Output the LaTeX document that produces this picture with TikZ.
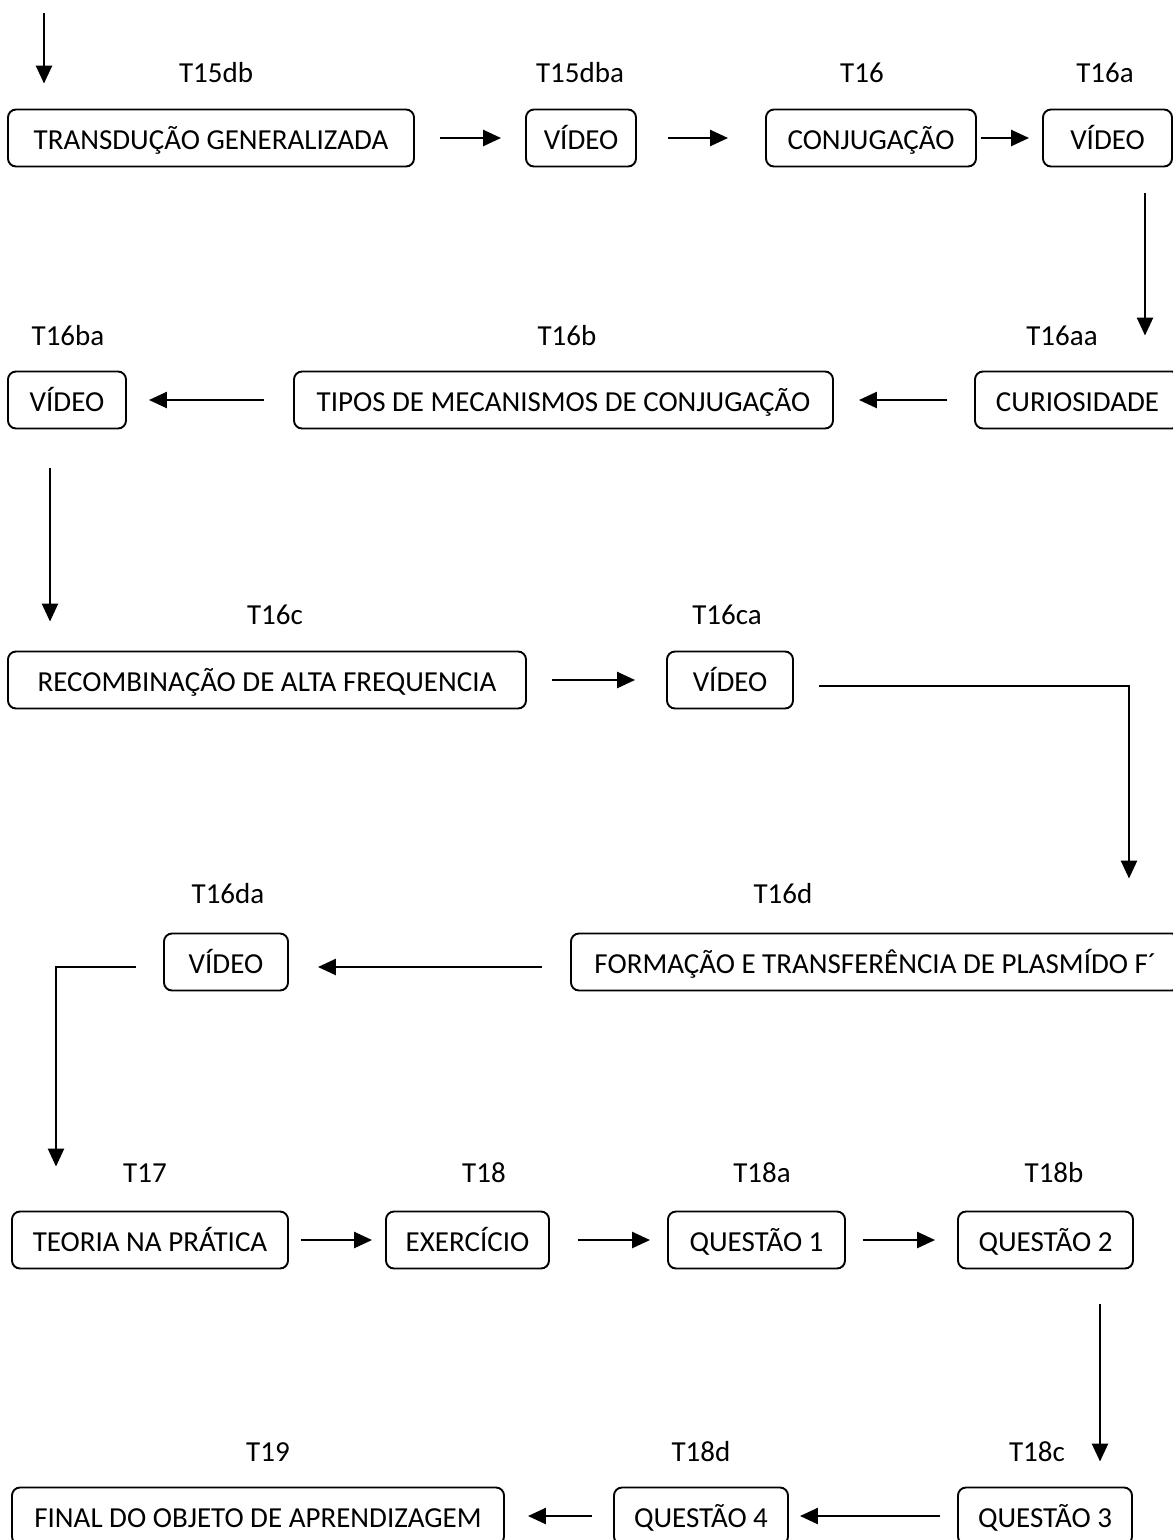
\documentclass[tikz,border=0pt]{standalone}
\usepackage{fontspec}
\setmainfont{Carlito}
\usetikzlibrary{arrows.meta, positioning}

\begin{document}
\begin{tikzpicture}[x=1pt, y=-1pt, font=\fontsize{29}{34}\selectfont,
    box/.style={draw, rounded corners=8pt, line width=1.9pt, minimum height=57pt, inner sep=0pt,
                text height=25pt, text depth=2pt},
    lbl/.style={inner sep=0pt, text height=20pt, text depth=0pt},
    arr/.style={line width=2.5pt, -{Triangle[length=18pt, width=16pt]}}]
  \useasboundingbox (0,0) rectangle (1173,1540);
  \clip (0,0) rectangle (1173,1540);
  % bend columns
  \coordinate (c0) at (44,0);
  \coordinate (c1) at (1145,0);
  \coordinate (c2) at (50,0);
  \coordinate (c3) at (1129,0);
  \coordinate (c4) at (56,0);
  \coordinate (c5) at (1100,0);
  \coordinate (start) at (44,13);
  % row 1
  \node[box, minimum width=406pt] (trans) at (211,138) {TRANSDUÇÃO GENERALIZADA};
  \node[box, minimum width=110pt] (vid1) at (581,138) {VÍDEO};
  \node[box, minimum width=210pt] (conj) at (871,138) {CONJUGAÇÃO};
  \node[box, minimum width=129pt] (vid2) at (1107.5,138) {VÍDEO};
  \node[lbl] (t15db) at (216,72) {T15db};
  \node[lbl] (t15dba) at (580,72) {T15dba};
  \node[lbl] (t16) at (862,72) {T16};
  \node[lbl] (t16a) at (1105,72) {T16a};
  % row 2
  \node[box, minimum width=118pt] (vid3) at (67,400) {VÍDEO};
  \node[box, minimum width=539pt] (tipos) at (563.5,400) {TIPOS DE MECANISMOS DE CONJUGAÇÃO};
  \node[box, minimum width=205pt] (curio) at (1077.5,400) {CURIOSIDADE};
  \node[lbl] (t16ba) at (68,335) {T16ba};
  \node[lbl] (t16b) at (567,335) {T16b};
  \node[lbl] (t16aa) at (1062,335) {T16aa};
  % row 3
  \node[box, minimum width=518pt] (recomb) at (267,680) {RECOMBINAÇÃO DE ALTA FREQUENCIA};
  \node[box, minimum width=126pt] (vid4) at (730,680) {VÍDEO};
  \node[lbl] (t16c) at (275,614) {T16c};
  \node[lbl] (t16ca) at (727,614) {T16ca};
  % row 4
  \node[box, minimum width=124pt] (vid5) at (226,962) {VÍDEO};
  \node[box, minimum width=609pt] (form) at (875.5,962) {FORMAÇÃO E TRANSFERÊNCIA DE PLASMÍDO F´};
  \node[lbl] (t16da) at (228,893) {T16da};
  \node[lbl] (t16d) at (783,893) {T16d};
  % row 5
  \node[box, minimum width=276pt] (teoria) at (150,1240) {TEORIA NA PRÁTICA};
  \node[box, minimum width=163pt] (exerc) at (467.5,1240) {EXERCÍCIO};
  \node[box, minimum width=177pt] (q1) at (756.5,1240) {QUESTÃO 1};
  \node[box, minimum width=175pt] (q2) at (1045.5,1240) {QUESTÃO 2};
  \node[lbl] (t17) at (145,1172) {T17};
  \node[lbl] (t18) at (484,1172) {T18};
  \node[lbl] (t18a) at (762,1172) {T18a};
  \node[lbl] (t18b) at (1054,1172) {T18b};
  % row 6
  \node[box, minimum width=492pt] (final) at (258,1516) {FINAL DO OBJETO DE APRENDIZAGEM};
  \node[box, minimum width=174pt] (q4) at (701,1516) {QUESTÃO 4};
  \node[box, minimum width=174pt] (q3) at (1045,1516) {QUESTÃO 3};
  \node[lbl] (t19) at (268,1451) {T19};
  \node[lbl] (t18d) at (701,1451) {T18d};
  \node[lbl] (t18c) at (1037,1451) {T18c};
  % connectors
  \draw[arr, shorten >=25pt] (start) -- (trans.north -| c0);
  \draw[arr, shorten <=25pt, shorten >=24pt] (trans) -- (vid1);
  \draw[arr, shorten <=31pt, shorten >=37pt] (vid1) -- (conj);
  \draw[arr, shorten <=4pt, shorten >=13pt] (conj) -- (vid2);
  \draw[arr, shorten <=26pt, shorten >=35pt] (vid2.south -| c1) -- (curio.north -| c1);
  \draw[arr, shorten <=27pt, shorten >=25pt] (curio) -- (tipos);
  \draw[arr, shorten <=29pt, shorten >=22pt] (tipos) -- (vid3);
  \draw[arr, shorten <=39pt, shorten >=29pt] (vid3.south -| c2) -- (recomb.north -| c2);
  \draw[arr, shorten <=25pt, shorten >=31pt] (recomb) -- (vid4);
  \draw[arr, shorten <=25pt, shorten >=54pt] ([yshift=-6pt]vid4.east) -| (form.north -| c3);
  \draw[arr, shorten <=28pt, shorten >=29pt] ([yshift=-5pt]form.west) -- ([yshift=-5pt]vid5.east);
  \draw[arr, shorten <=27pt, shorten >=44pt] ([yshift=-5pt]vid5.west) -| (teoria.north -| c4);
  \draw[arr, shorten <=12pt, shorten >=13pt] (teoria) -- (exerc);
  \draw[arr, shorten <=28pt, shorten >=17pt] (exerc) -- (q1);
  \draw[arr, shorten <=17pt, shorten >=22pt] (q1) -- (q2);
  \draw[arr, shorten <=35pt, shorten >=25pt] (q2.south -| c5) -- (q3.north -| c5);
  \draw[arr, shorten <=17pt, shorten >=11pt] (q3) -- (q4);
  \draw[arr, shorten <=21pt, shorten >=23pt] (q4) -- (final);
\end{tikzpicture}
\end{document}
